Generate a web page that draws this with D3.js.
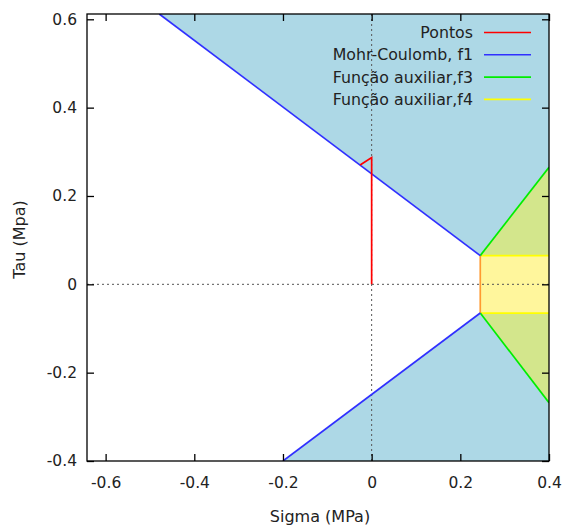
<!DOCTYPE html>
<html>
<head>
<meta charset="utf-8">
<script src="https://cdn.jsdelivr.net/npm/d3@7"></script>
<style>
  html, body { margin: 0; padding: 0; background: #fff; }
  svg text { font-family: "DejaVu Sans", Verdana, sans-serif; fill: #222; }
</style>
</head>
<body>
<svg id="chart" width="563" height="527"></svg>
<script>
// Axis ranges and ticks
const xDomain = [-0.642, 0.4];
const yDomain = [-0.4, 0.612];
const xTicks = [-0.6, -0.4, -0.2, 0, 0.2, 0.4];
const yTicks = [-0.4, -0.2, 0, 0.2, 0.4, 0.6];

// Stress points (sigma, tau)
const pontos = [[0, 0], [0, 0.287], [-0.026, 0.27]];

// Mohr-Coulomb envelope f1 (upper and lower branches)
const f1Upper = [[-0.479, 0.612], [0.245, 0.065]];
const f1Lower = [[-0.2, -0.4], [0.245, -0.065]];

// Auxiliary function f3 (branches from the cutoff corners)
const f3Upper = [[0.245, 0.065], [0.4, 0.265]];
const f3Lower = [[0.245, -0.065], [0.4, -0.268]];

// Auxiliary function f4 (tension cutoff band)
const f4Sigma = [0.245, 0.4];
const f4Tau = [-0.065, 0.065];

const legendNames = ["Pontos", "Mohr-Coulomb, f1", "Função auxiliar,f3", "Função auxiliar,f4"];
const legendColors = ["#ff0000", "#3030ff", "#00ee00", "#ffff00"];

const svg = d3.select("#chart");
const pL = 87, pR = 549, pT = 14, pB = 461;

const x = d3.scaleLinear().domain(xDomain).range([pL, pR]);
const y = d3.scaleLinear().domain(yDomain).range([pB, pT]);
const line = d3.line().x(d => x(d[0])).y(d => y(d[1]));

const plot = svg.append("g");
plot.append("clipPath").attr("id", "clip")
  .append("rect").attr("x", pL).attr("y", pT)
  .attr("width", pR - pL).attr("height", pB - pT);
const g = plot.append("g").attr("clip-path", "url(#clip)");

const xMax = xDomain[1], yMax = yDomain[1], yMin = yDomain[0];

// Region outside the envelope
const blue = "#add8e6";
g.append("path").attr("fill", blue).attr("d", line([
  f1Upper[0], f1Upper[1], f3Upper[1], [xMax, yMax], [f1Upper[0][0], yMax]
]) + "Z");
g.append("path").attr("fill", blue).attr("d", line([
  f1Lower[0], f1Lower[1], f3Lower[1], [xMax, yMin]
]) + "Z");

// f3 wedges
const wedge = "#d3e68c";
g.append("path").attr("fill", wedge).attr("d", line([
  f3Upper[0], f3Upper[1], [xMax, f4Tau[1]]
]) + "Z");
g.append("path").attr("fill", wedge).attr("d", line([
  f3Lower[0], f3Lower[1], [xMax, f4Tau[0]]
]) + "Z");

// f4 band
g.append("rect")
  .attr("x", x(f4Sigma[0])).attr("y", y(f4Tau[1]))
  .attr("width", x(f4Sigma[1]) - x(f4Sigma[0]))
  .attr("height", y(f4Tau[0]) - y(f4Tau[1]))
  .attr("fill", "#fff69c");

// Zero axes (dotted)
g.append("line").attr("x1", pL).attr("x2", pR)
  .attr("y1", y(0)).attr("y2", y(0))
  .attr("stroke", "#555").attr("stroke-width", 1).attr("stroke-dasharray", "2,3");
g.append("line").attr("x1", x(0)).attr("x2", x(0))
  .attr("y1", pT).attr("y2", pB)
  .attr("stroke", "#555").attr("stroke-width", 1).attr("stroke-dasharray", "2,3");

// Curves
const lw = 1.7;
g.append("path").attr("d", line([[f4Sigma[0], f4Tau[1]], [f4Sigma[1], f4Tau[1]]]))
  .attr("stroke", legendColors[3]).attr("stroke-width", lw).attr("fill", "none");
g.append("path").attr("d", line([[f4Sigma[0], f4Tau[0]], [f4Sigma[1], f4Tau[0]]]))
  .attr("stroke", legendColors[3]).attr("stroke-width", lw).attr("fill", "none");
g.append("path").attr("d", line([[f4Sigma[0], f4Tau[0]], [f4Sigma[0], f4Tau[1]]]))
  .attr("stroke", "#ff9a30").attr("stroke-width", lw).attr("fill", "none");
[f3Upper, f3Lower].forEach(seg => g.append("path").attr("d", line(seg))
  .attr("stroke", legendColors[2]).attr("stroke-width", lw).attr("fill", "none"));
[f1Upper, f1Lower].forEach(seg => g.append("path").attr("d", line(seg))
  .attr("stroke", legendColors[1]).attr("stroke-width", lw).attr("fill", "none"));
g.append("path").attr("d", line(pontos))
  .attr("stroke", legendColors[0]).attr("stroke-width", lw).attr("fill", "none");

// Frame
svg.append("rect").attr("x", pL).attr("y", pT)
  .attr("width", pR - pL).attr("height", pB - pT)
  .attr("fill", "none").attr("stroke", "#000").attr("stroke-width", 1.3);

// Ticks: inward and mirrored on the opposite sides
const tl = 7;
const fmt = d => d === 0 ? "0" : d.toFixed(1);
const axB = d3.axisBottom(x).tickValues(xTicks).tickSizeInner(-tl).tickSizeOuter(0)
  .tickPadding(16).tickFormat(fmt);
const axT = d3.axisTop(x).tickValues(xTicks).tickSizeInner(-tl).tickSizeOuter(0).tickFormat("");
const axL = d3.axisLeft(y).tickValues(yTicks).tickSizeInner(-tl).tickSizeOuter(0)
  .tickPadding(10).tickFormat(fmt);
const axR = d3.axisRight(y).tickValues(yTicks).tickSizeInner(-tl).tickSizeOuter(0).tickFormat("");

function style(sel) {
  sel.select(".domain").remove();
  sel.selectAll(".tick line").attr("stroke", "#000").attr("stroke-width", 1.3);
  sel.selectAll(".tick text").attr("font-size", 15.5).attr("fill", "#222")
    .attr("font-family", "DejaVu Sans, sans-serif");
}
svg.append("g").attr("transform", `translate(0,${pB})`).call(axB).call(style);
svg.append("g").attr("transform", `translate(0,${pT})`).call(axT).call(style);
svg.append("g").attr("transform", `translate(${pL},0)`).call(axL).call(style);
svg.append("g").attr("transform", `translate(${pR},0)`).call(axR).call(style);

// Axis titles
svg.append("text").attr("x", (pL + pR) / 2 + 2).attr("y", 522)
  .attr("text-anchor", "middle").attr("font-size", 16).text("Sigma (MPa)");
svg.append("text").attr("transform", `translate(25,${(pT + pB) / 2 + 2}) rotate(-90)`)
  .attr("text-anchor", "middle").attr("font-size", 16).text("Tau (Mpa)");

// Legend
const lg = svg.append("g");
legendNames.forEach((name, i) => {
  const ly = 32.5 + i * 22.3;
  lg.append("text").attr("x", 473).attr("y", ly + 5.5)
    .attr("text-anchor", "end").attr("font-size", 15.8).text(name);
  lg.append("line").attr("x1", 484).attr("x2", 531).attr("y1", ly).attr("y2", ly)
    .attr("stroke", legendColors[i]).attr("stroke-width", 1.6);
});
</script>
</body>
</html>
